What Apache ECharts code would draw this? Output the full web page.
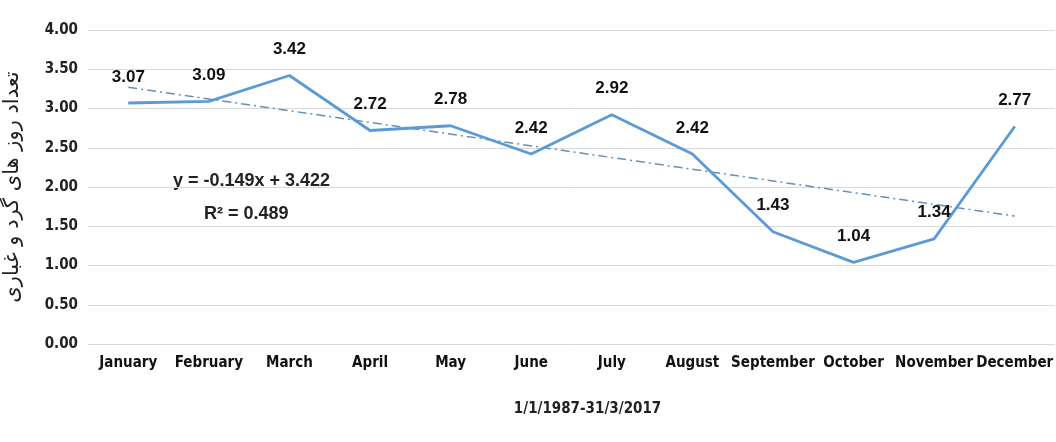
<!DOCTYPE html>
<html><head><meta charset="utf-8">
<script src="https://cdn.jsdelivr.net/npm/echarts@6/dist/echarts.min.js"></script>
<style>html,body{margin:0;padding:0;background:#fff}#c{width:1056px;height:442px}</style>
</head><body><div id="c"></div>
<script>
const months = ['January','February','March','April','May','June','July','August','September','October','November','December'];
const dustDays = [3.07, 3.09, 3.42, 2.72, 2.78, 2.42, 2.92, 2.42, 1.43, 1.04, 1.34, 2.77];
// trend line endpoints (Jan and Dec), joined straight
const trend = [3.27, null, null, null, null, null, null, null, null, null, null, 1.63];
const yTicks = ['0.00','0.50','1.00','1.50','2.00','2.50','3.00','3.50','4.00'];
const equationText = 'y = -0.149x + 3.422';
const r2Text = 'R² = 0.489';
const yTitle = 'تعداد روز های گرد و غباری';
const xTitle = '1/1/1987-31/3/2017';

const FONT = "'DejaVu Sans Condensed',sans-serif";
const LFONT = "'Liberation Sans',Arial,sans-serif";
const chart = echarts.init(document.getElementById('c'), null, {renderer:'canvas'});
chart.setOption({
  animation:false,
  backgroundColor:'#fff',
  grid:{left:88, right:1, top:30, bottom:98, outerBoundsMode:'none', containLabel:false},
  xAxis:{
    type:'category', data:months, boundaryGap:true,
    axisLine:{show:false}, axisTick:{show:false},
    axisLabel:{color:'#111', fontFamily:FONT, fontSize:15, fontWeight:'bold', margin:12, interval:0, hideOverlap:false},
    name:xTitle, nameLocation:'middle', nameGap:58,
    nameTextStyle:{color:'#222', fontFamily:FONT, fontSize:15, fontWeight:'bold', padding:[0,0,0,32]}
  },
  yAxis:{
    type:'value', min:0, max:4, interval:0.5,
    axisLine:{show:false}, axisTick:{show:false},
    splitLine:{lineStyle:{color:'#d9d9d9', width:1}},
    axisLabel:{color:'#222', fontFamily:FONT, fontSize:15, fontWeight:'bold', margin:10,
      formatter:(v)=>yTicks[Math.round(v/0.5)]},
    name:yTitle, nameLocation:'middle', nameRotate:90, nameGap:65,
    nameTextStyle:{color:'#222', fontFamily:"'DejaVu Sans','Noto Sans',sans-serif", fontSize:21}
  },
  series:[
    {type:'line', data:dustDays, symbol:'circle', symbolSize:1, showSymbol:true, z:3,
      itemStyle:{color:'#5b9bd5'},
      lineStyle:{color:'#5b9bd5', width:2.8},
      label:{show:true, position:'top', distance:17, color:'#111', fontFamily:LFONT, fontSize:17, fontWeight:'bold',
        formatter:(p)=>Number(p.value).toFixed(2)}},
    {type:'line', data:trend, connectNulls:true, symbol:'none', z:2,
      lineStyle:{color:'#6a8fb5', width:1.5, type:[9,4,2,4]}}
  ],
  graphic:[
    {type:'text', left:173, top:172, style:{text:equationText, fill:'#222', font:"bold 18px "+LFONT}},
    {type:'text', left:204, top:205, style:{text:r2Text, fill:'#222', font:"bold 18px "+LFONT}}
  ]
});
</script></body></html>
